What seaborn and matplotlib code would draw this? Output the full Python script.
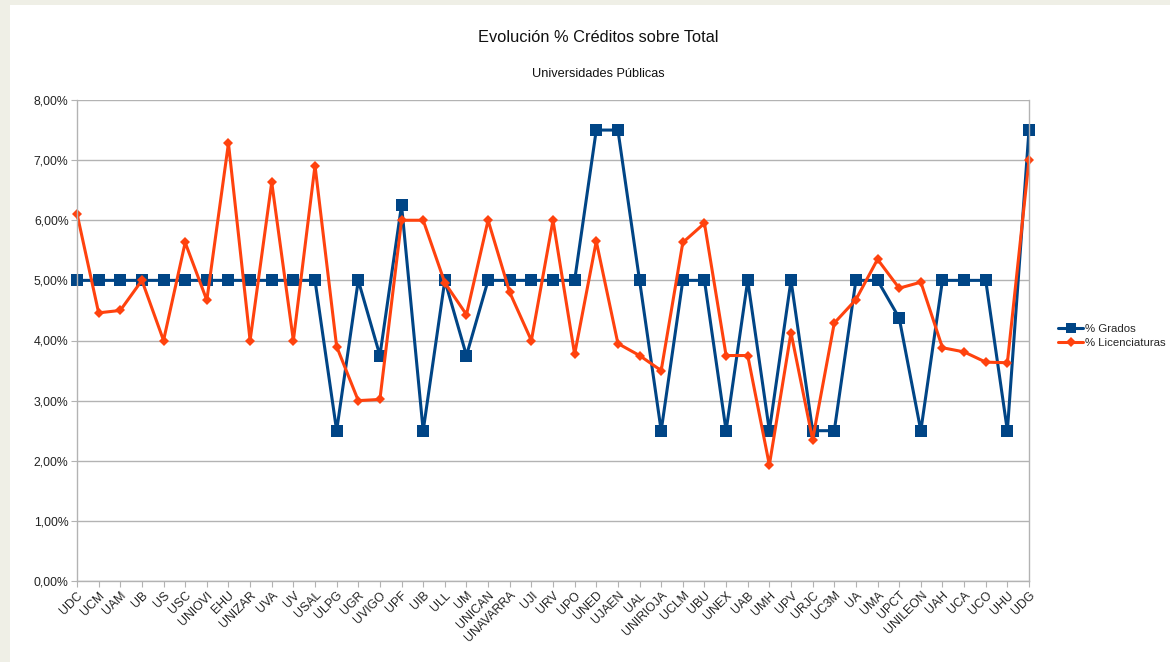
import numpy as np
import pandas as pd
import matplotlib
matplotlib.use('Agg')
import matplotlib.pyplot as plt
import seaborn as sns
from matplotlib.patches import Rectangle
from matplotlib.lines import Line2D
from matplotlib.ticker import FuncFormatter

universidades = ['UDC', 'UCM', 'UAM', 'UB', 'US', 'USC', 'UNIOVI', 'EHU', 'UNIZAR', 'UVA',
                 'UV', 'USAL', 'ULPG', 'UGR', 'UVIGO', 'UPF', 'UIB', 'ULL', 'UM', 'UNICAN',
                 'UNAVARRA', 'UJI', 'URV', 'UPO', 'UNED', 'UJAEN', 'UAL', 'UNIRIOJA', 'UCLM', 'UBU',
                 'UNEX', 'UAB', 'UMH', 'UPV', 'URJC', 'UC3M', 'UA', 'UMA', 'UPCT', 'UNILEON',
                 'UAH', 'UCA', 'UCO', 'UHU', 'UDG']

grados = [5.0, 5.0, 5.0, 5.0, 5.0, 5.0, 5.0, 5.0, 5.0, 5.0,
          5.0, 5.0, 2.5, 5.0, 3.75, 6.25, 2.5, 5.0, 3.75, 5.0,
          5.0, 5.0, 5.0, 5.0, 7.5, 7.5, 5.0, 2.5, 5.0, 5.0,
          2.5, 5.0, 2.5, 5.0, 2.5, 2.5, 5.0, 5.0, 4.375, 2.5,
          5.0, 5.0, 5.0, 2.5, 7.5]

licenciaturas = [6.11, 4.46, 4.5, 5.0, 4.0, 5.63, 4.67, 7.28, 4.0, 6.63,
                 4.0, 6.91, 3.9, 3.0, 3.02, 6.0, 6.0, 4.96, 4.43, 6.0,
                 4.8, 4.0, 6.0, 3.77, 5.65, 3.95, 3.75, 3.5, 5.63, 5.95,
                 3.75, 3.75, 1.93, 4.13, 2.35, 4.29, 4.68, 5.35, 4.87, 4.97,
                 3.88, 3.81, 3.64, 3.63, 7.0]

df = pd.DataFrame({'pos': np.arange(len(universidades)),
                   'universidad': universidades,
                   '% Grados': grados,
                   '% Licenciaturas': licenciaturas})
long_df = df.melt(id_vars=['pos', 'universidad'], var_name='serie', value_name='valor')

sns.set_style('white')
plt.rcParams['font.family'] = ['Liberation Sans', 'DejaVu Sans']

fig = plt.figure(figsize=(11.7, 6.62), dpi=100, facecolor='#efefe6')
# white chart panel over the beige frame
fig.patches.append(Rectangle((10 / 1170, 0), 1, 1 - 5 / 662, transform=fig.transFigure,
                             facecolor='white', edgecolor='none', zorder=-1))

ax = fig.add_axes([77 / 1170, 1 - 581 / 662, (1029 - 77) / 1170, (581 - 100) / 662])
ax.set_facecolor('white')

colores = {'% Grados': '#004586', '% Licenciaturas': '#ff420e'}
sns.lineplot(data=long_df, x='pos', y='valor', hue='serie', style='serie',
             palette=colores, markers={'% Grados': 's', '% Licenciaturas': 'D'},
             dashes=False, sort=False, linewidth=2.2, ax=ax, legend=False,
             markeredgewidth=0)
for line, ms in zip(ax.lines, [8, 5.5]):
    line.set_markersize(ms)
    line.set_clip_on(False)

ax.set_xlim(0, len(universidades) - 1)
ax.set_ylim(0, 8)
ax.set_yticks(np.arange(0, 8.01, 1))
ax.yaxis.set_major_formatter(FuncFormatter(lambda v, p: f'{v:.2f}%'.replace('.', ',')))
ax.set_xticks(df['pos'])
ax.set_xticklabels(universidades, rotation=45, ha='right', rotation_mode='anchor')
ax.tick_params(axis='both', labelsize=8.8, length=4, width=0.8,
               direction='out', left=True, bottom=True, pad=2,
               colors='#b3b3b3', labelcolor='#222222')
ax.grid(axis='y', color='#b3b3b3', linewidth=1)
ax.set_axisbelow(True)
for s in ['left', 'right', 'bottom']:
    ax.spines[s].set_color('#b3b3b3')
    ax.spines[s].set_linewidth(1)
ax.spines['top'].set_visible(False)
ax.set_xlabel('')
ax.set_ylabel('')

fig.text(598 / 1170, 1 - 38 / 662, 'Evolución % Créditos sobre Total', ha='center', va='center',
         fontsize=11.8, color='#111111')
fig.text(598 / 1170, 1 - 74 / 662, 'Universidades Públicas', ha='center', va='center',
         fontsize=9.2, color='#111111')

# legend on the right (kept fully inside the figure)
handles = [Line2D([], [], color='#004586', marker='s', markersize=7, linewidth=2.2, markeredgewidth=0),
           Line2D([], [], color='#ff420e', marker='D', markersize=5, linewidth=2.2, markeredgewidth=0)]
fig.legend(handles, ['% Grados', '% Licenciaturas'], loc='center left',
           bbox_to_anchor=(1058 / 1170, 1 - 336 / 662), frameon=False, fontsize=8.2,
           handlelength=2.2, handletextpad=0.2, labelspacing=0.35, borderaxespad=0,
           borderpad=0)

fig.savefig('out.png', dpi=100, facecolor=fig.get_facecolor())
